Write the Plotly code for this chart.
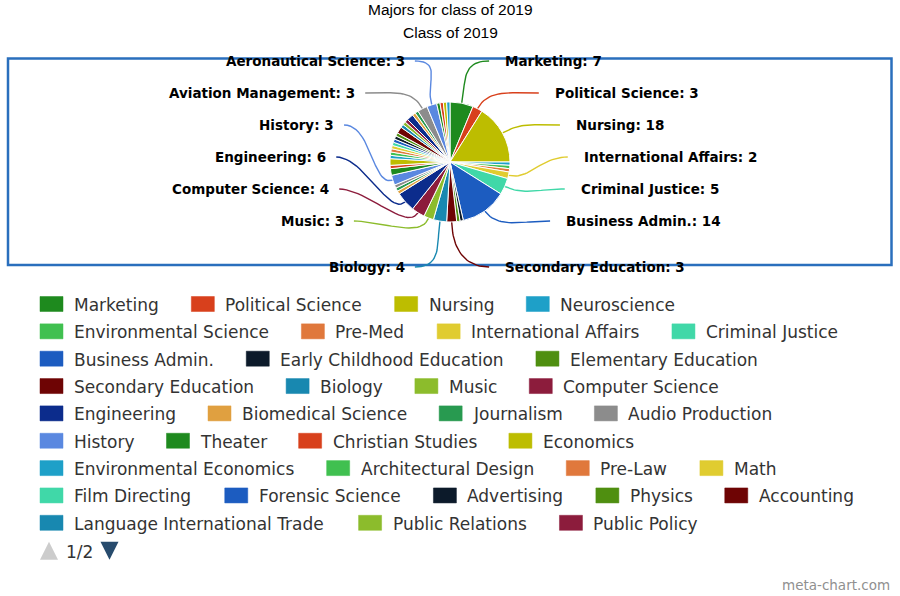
import math
import plotly.graph_objects as go

# ---------------- data ----------------
title = "Majors for class of 2019"
subtitle = "Class of 2019"

majors = [
    "Marketing", "Political Science", "Nursing", "Neuroscience",
    "Environmental Science", "Pre-Med", "International Affairs", "Criminal Justice",
    "Business Admin.", "Early Childhood Education", "Elementary Education",
    "Secondary Education", "Biology", "Music", "Computer Science", "Engineering",
    "Biomedical Science", "Journalism", "Audio Production", "History", "Theater",
    "Christian Studies", "Economics", "Environmental Economics", "Architectural Design",
    "Pre-Law", "Math", "Film Directing", "Forensic Science", "Advertising", "Physics",
    "Accounting", "Language International Trade", "Public Relations", "Public Policy",
    # page 2 of the legend (names not visible in the picture except the labelled ones)
    "Page 2 major A", "Page 2 major B", "Page 2 major C",
    "Aviation Management", "Aeronautical Science",
    "Page 2 major D", "Page 2 major E", "Page 2 major F", "Page 2 major G",
]
counts = [
    7, 3, 18, 1,
    1, 1, 2, 5,
    14, 1, 1,
    3, 4, 3, 4, 6,
    1, 1, 1, 3, 2,
    1, 2, 1, 1,
    1, 1, 1, 1, 1, 1,
    2, 1, 1, 1,
    2, 1, 1,
    3, 3,
    1, 1, 1, 1,
]
labelled = [
    "Marketing", "Political Science", "Nursing", "International Affairs",
    "Criminal Justice", "Business Admin.", "Secondary Education", "Biology",
    "Music", "Computer Science", "Engineering", "History",
    "Aviation Management", "Aeronautical Science",
]
palette = [
    "#1e8a1e", "#d8401c", "#bdbd00", "#1ea0c8", "#40c050", "#e0783c", "#e0cc30",
    "#40d8a8", "#1c5cc0", "#0c1a2a", "#4f8f10", "#6e0404", "#1888b0", "#8cbc2c",
    "#8c1c3c", "#0c2c8c", "#e0a040", "#289a50", "#8c8c8c", "#5a88e0",
]
page_text = "1/2"
credit = "meta-chart.com"

# ---------------- layout constants ----------------
W, H = 900, 596
CX, CY, R = 450, 162, 60             # pie centre / radius in px
LCX, LCY, LA, LB = 455, 164, 127, 111.3   # label ellipse
LSTEP, LTOP_OFF = 32, 103

LEG_X0, LEG_XMAX, LEG_Y0, LEG_DY = 40, 870, 304, 27.35
LEG_FS, SW_W, SW_H, SW_GAP, ITEM_GAP, LEG_ROWS = 17, 23, 15, 32, 34, 9

# DejaVu Sans advance widths (em)
CW = {' ': .318, '-': .361, '.': .318, '/': .337,
      'A': .684, 'B': .686, 'C': .698, 'D': .770, 'E': .632, 'F': .575, 'G': .775,
      'H': .752, 'I': .295, 'J': .295, 'K': .656, 'L': .557, 'M': .863, 'N': .748,
      'O': .787, 'P': .603, 'R': .695, 'S': .635, 'T': .611, 'U': .732, 'V': .684,
      'a': .613, 'b': .635, 'c': .550, 'd': .635, 'e': .615, 'f': .352, 'g': .635,
      'h': .634, 'i': .278, 'j': .278, 'k': .579, 'l': .278, 'm': .974, 'n': .634,
      'o': .612, 'p': .635, 'r': .411, 's': .521, 't': .392, 'u': .634, 'v': .592,
      'w': .818, 'x': .592, 'y': .592, 'z': .525}


def text_w(s, size):
    return sum(CW.get(ch, 0.62) for ch in s) * size


colors = [palette[i % len(palette)] for i in range(len(majors))]

fig = go.Figure()

# ---------------- pie ----------------
fig.add_trace(go.Pie(
    labels=majors, values=counts, sort=False, direction="clockwise", rotation=0,
    marker=dict(colors=colors, line=dict(color="white", width=1)),
    textinfo="none", showlegend=False, hoverinfo="label+value+percent",
    domain=dict(x=[(CX - R) / W, (CX + R) / W], y=[1 - (CY + R) / H, 1 - (CY - R) / H]),
))

# ---------------- data labels with connectors ----------------
total = float(sum(counts))
mid = {}
cum = 0.0
for m, v in zip(majors, counts):
    mid[m] = (cum + v / 2.0) / total * 360.0
    cum += v

annotations = []
shapes = []

for side in (1, -1):
    names = [m for m in labelled if (mid[m] < 180) == (side == 1)]
    names.sort(key=lambda m: -math.cos(math.radians(mid[m])))
    ys = {}
    k = 0
    for j, m in enumerate(names):
        last = j == len(names) - 1
        if last and math.cos(math.radians(mid[m])) < -0.9:
            ys[m] = LCY + LTOP_OFF
        else:
            ys[m] = LCY - LTOP_OFF + LSTEP * k
            k += 1
    for m in names:
        y = ys[m]
        dy = y - LCY
        off = LA * math.sqrt(max(0.0, 1 - (dy / LB) ** 2))
        tx = LCX + side * off
        th = math.radians(mid[m])
        ux, uy = math.sin(th), -math.cos(th)
        sx, sy = CX + R * ux, CY + R * uy
        ex = tx - side * (14 if side == 1 else 8)
        ey = y
        c1 = (sx + 22 * ux, sy + 22 * uy)
        c2 = (ex - side * 28, ey)
        px, py = [], []
        for s in range(25):
            t = s / 24
            a, b, c, d = (1 - t) ** 3, 3 * (1 - t) ** 2 * t, 3 * (1 - t) * t ** 2, t ** 3
            px.append(a * sx + b * c1[0] + c * c2[0] + d * ex)
            py.append(a * sy + b * c1[1] + c * c2[1] + d * ey)
        fig.add_trace(go.Scatter(x=px, y=py, mode="lines", hoverinfo="skip",
                                 line=dict(color=colors[majors.index(m)], width=1.4),
                                 showlegend=False))
        annotations.append(dict(
            x=tx, y=y, xref="x", yref="y", showarrow=False,
            text=f"{m}: {counts[majors.index(m)]}",
            xanchor="left" if side == 1 else "right", yanchor="middle",
            font=dict(family="DejaVu Sans", size=13.5, color="#000000", weight="bold"),
        ))

# ---------------- plot border ----------------
shapes.append(dict(type="rect", xref="x", yref="y", x0=8, x1=891.5, y0=58.5, y1=265,
                   line=dict(color="#2a6fbd", width=2.5), layer="below"))

# ---------------- titles ----------------
annotations.append(dict(x=450, y=9, xref="x", yref="y", text=title, showarrow=False,
                        xanchor="center", yanchor="middle",
                        font=dict(family="Liberation Sans", size=15.5, color="#000000")))
annotations.append(dict(x=450, y=32.5, xref="x", yref="y", text=subtitle, showarrow=False,
                        xanchor="center", yanchor="middle",
                        font=dict(family="Liberation Sans", size=15.5, color="#000000")))

# ---------------- custom paged legend ----------------
x = LEG_X0
row = 0
for i, name in enumerate(majors):
    w = SW_GAP + text_w(name, LEG_FS)
    if x > LEG_X0 and x + w > LEG_XMAX:
        row += 1
        x = LEG_X0
    if row < LEG_ROWS:
        yc = LEG_Y0 + row * LEG_DY
        shapes.append(dict(type="rect", xref="x", yref="y", x0=x, x1=x + SW_W,
                           y0=yc - SW_H / 2, y1=yc + SW_H / 2,
                           fillcolor=colors[i], line=dict(color=colors[i], width=0.5),
                           layer="above"))
        annotations.append(dict(x=x + SW_GAP, y=yc + 1, xref="x", yref="y", text=name,
                                showarrow=False, xanchor="left", yanchor="middle",
                                font=dict(family="DejaVu Sans", size=LEG_FS, color="#333333")))
    x += w + ITEM_GAP

# pager
py0 = LEG_Y0 + LEG_ROWS * LEG_DY + 0.5
shapes.append(dict(type="path", xref="x", yref="y",
                   path=f"M 40 {py0 + 9} L 58 {py0 + 9} L 49 {py0 - 9} Z",
                   fillcolor="#cccccc", line=dict(width=0)))
shapes.append(dict(type="path", xref="x", yref="y",
                   path=f"M 100.5 {py0 - 9} L 118.5 {py0 - 9} L 109.5 {py0 + 9} Z",
                   fillcolor="#274b6d", line=dict(width=0)))
annotations.append(dict(x=64, y=py0 + 1, xref="x", yref="y", text=page_text, showarrow=False,
                        xanchor="left", yanchor="middle",
                        font=dict(family="DejaVu Sans", size=LEG_FS, color="#333333")))

# credit
annotations.append(dict(x=892, y=585, xref="x", yref="y", text=credit, showarrow=False,
                        xanchor="right", yanchor="middle",
                        font=dict(family="DejaVu Sans", size=13.5, color="#909090")))

fig.update_layout(
    width=W, height=H, margin=dict(l=0, r=0, t=0, b=0),
    paper_bgcolor="white", plot_bgcolor="rgba(0,0,0,0)",
    xaxis=dict(range=[0, W], visible=False, fixedrange=True),
    yaxis=dict(range=[H, 0], visible=False, fixedrange=True),
    showlegend=False, annotations=annotations, shapes=shapes,
)

fig.write_html("out.html")
